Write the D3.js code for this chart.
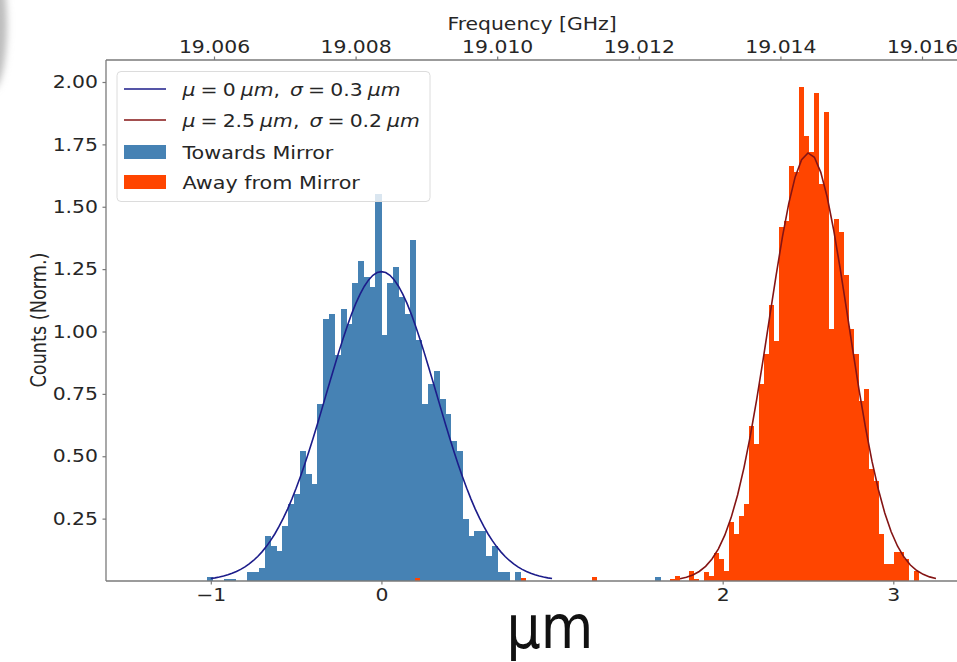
<!DOCTYPE html>
<html>
<head>
<meta charset="utf-8">
<script src="https://cdn.jsdelivr.net/npm/d3@7"></script>
<style>
    body { margin: 0; background: #fff; }
    text { font-family: "DejaVu Sans", sans-serif; fill: #262626; }
    .axis path { stroke: none; }
    .axis line { stroke: #7a7a7a; stroke-width: 1.2px; }
    .axis text { font-size: 17.7px; }
</style>
</head>
<body>
<script>

// histogram of the "towards mirror" run (normalised counts), bins from blueStart
const blueStart = -1.024;
const blueWidth = 0.0341;
const blueCounts = [0.015, 0, 0, 0.01, 0.01, 0, 0, 0.036, 0.036, 0.053,
    0.18, 0.14, 0.12, 0.22, 0.31, 0.35, 0.52, 0.43, 0.39, 0.71,
    1.05, 1.07, 0.905, 1.09, 1.03, 1.195, 1.283, 1.22, 1.18, 1.55,
    0.985, 1.195, 1.26, 1.14, 1.07, 1.366, 0.966, 0.71, 0.79, 0.84,
    0.73, 0.67, 0.56, 0.52, 0.25, 0.18, 0.20, 0.20, 0.10, 0.14,
    0.036, 0.036, 0, 0.036];
const blueStrayX = [1.602];
const blueStrayH = [0.015];

// histogram of the "away from mirror" run
const redStart = 1.801;
const redWidth = 0.0293;
const redCounts = [0.04, 0.01, 0, 0.035, 0.02, 0.113, 0.09, 0.04, 0.235, 0.187,
    0.26, 0.307, 0.62, 0.55, 0.79, 0.91, 1.105, 0.96, 1.42, 1.444,
    1.663, 1.64, 1.978, 1.783, 1.72, 1.954, 1.59, 1.88, 1.01, 1.45,
    1.40, 1.226, 1.01, 0.91, 0.72, 0.77, 0.45, 0.40, 0.187, 0.067,
    0.067, 0.115, 0.115, 0.09, 0, 0.04];
const redStrayX = [0.195, 0.818, 1.236, 1.689, 1.718];
const redStrayH = [0.012, 0.012, 0.016, 0.01, 0.02];

// gaussian fits: [mean, sigma, peak, from, to]
const blueFit = [0.0, 0.322, 1.24, -1.0, 1.0];
const redFit = [2.504, 0.2325, 1.716, 1.75, 3.25];

const xTicks = [-1, 0, 2, 3];
const yTicks = [0.25, 0.5, 0.75, 1.0, 1.25, 1.5, 1.75, 2.0];
const freqTicks = [19.006, 19.008, 19.010, 19.012, 19.014, 19.016];

const legendLabels = ['Towards Mirror', 'Away from Mirror'];

const SX = 1.15; // text in the picture is stretched sideways
const W = 957, H = 662;
const plot = { left: 106, top: 60, right: 958, bottom: 581 };

let x = d3.scaleLinear().domain([-1, 3]).range([210.8, 893.3]);
let xf = d3.scaleLinear().domain([19.006, 19.016]).range([214, 922]);
let y = d3.scaleLinear().domain([0, 2]).range([581, 82]);

let svg = d3.select('body').append('svg')
    .attr('width', W)
    .attr('height', H);

// blurred grey smudge at the top left edge of the photo
let defs = svg.append('defs');
defs.append('filter').attr('id', 'blur')
    .attr('x', '-50%').attr('y', '-50%').attr('width', '200%').attr('height', '200%')
    .append('feGaussianBlur').attr('stdDeviation', 3.5);
defs.append('clipPath').attr('id', 'clip')
    .append('rect')
    .attr('x', plot.left).attr('y', plot.top)
    .attr('width', plot.right - plot.left).attr('height', plot.bottom - plot.top);

svg.append('ellipse')
    .attr('cx', -8).attr('cy', 25)
    .attr('rx', 15).attr('ry', 65)
    .style('fill', '#bdbdbd')
    .attr('filter', 'url(#blur)');

let g = svg.append('g').attr('clip-path', 'url(#clip)');

function bars(counts, start, width, color) {
    g.append('g').selectAll('rect')
        .data(counts)
        .enter().append('rect')
        .attr('x', (d, i) => x(start + i * width))
        .attr('width', (d, i) => x(start + (i + 1) * width) - x(start + i * width) + 0.3)
        .attr('y', d => y(d))
        .attr('height', d => y(0) - y(d))
        .attr('shape-rendering', 'crispEdges')
        .style('fill', color);
}

function strays(xs, hs, width, color) {
    g.append('g').selectAll('rect')
        .data(xs)
        .enter().append('rect')
        .attr('x', d => x(d))
        .attr('width', d => x(d + width) - x(d))
        .attr('y', (d, i) => y(hs[i]))
        .attr('height', (d, i) => y(0) - y(hs[i]))
        .attr('shape-rendering', 'crispEdges')
        .style('fill', color);
}

bars(blueCounts, blueStart, blueWidth, '#4682b4');
strays(blueStrayX, blueStrayH, blueWidth, '#4682b4');
bars(redCounts, redStart, redWidth, '#ff4500');
strays(redStrayX, redStrayH, redWidth, '#ff4500');

function fitLine(fit, color, n) {
    let [mu, sigma, peak, from, to] = fit;
    let pts = d3.range(n + 1).map(i => {
        let v = from + (to - from) * i / n;
        return [v, peak * Math.exp(-0.5 * ((v - mu) / sigma) ** 2)];
    });
    g.append('path')
        .datum(pts)
        .attr('d', d3.line().x(d => x(d[0])).y(d => y(d[1])))
        .style('fill', 'none')
        .style('stroke', color)
        .style('stroke-width', 1.6);
}

fitLine(blueFit, '#1c1c8a', 80);
fitLine(redFit, '#841414', 40);

// axes
let fmtMinus = d => d < 0 ? '\u2212' + Math.abs(d) : d;

let xAxis = svg.append('g')
    .attr('class', 'axis')
    .attr('transform', `translate(0,${plot.bottom})`)
    .call(d3.axisBottom(x).tickValues(xTicks).tickFormat(fmtMinus).tickSize(3.5).tickPadding(3.5));

let yAxis = svg.append('g')
    .attr('class', 'axis')
    .attr('transform', `translate(${plot.left},0)`)
    .call(d3.axisLeft(y).tickValues(yTicks).tickFormat(d3.format('.2f')).tickSize(3.5).tickPadding(3.5));

let topAxis = svg.append('g')
    .attr('class', 'axis')
    .attr('transform', `translate(0,${plot.top})`)
    .call(d3.axisTop(xf).tickValues(freqTicks).tickFormat(d3.format('.3f')).tickSize(3.5).tickPadding(4));

svg.selectAll('.axis text').attr('transform', `scale(${SX},1)`);

// spines
svg.append('line')
    .attr('x1', plot.left).attr('x2', plot.right)
    .attr('y1', plot.top).attr('y2', plot.top)
    .style('stroke', '#7a7a7a').style('stroke-width', 1.3);
svg.append('line')
    .attr('x1', plot.left).attr('x2', plot.right)
    .attr('y1', plot.bottom).attr('y2', plot.bottom)
    .style('stroke', '#7a7a7a').style('stroke-width', 1.3);
svg.append('line')
    .attr('x1', plot.left).attr('x2', plot.left)
    .attr('y1', plot.top).attr('y2', plot.bottom)
    .style('stroke', '#7a7a7a').style('stroke-width', 1.3);

// axis titles
svg.append('text')
    .attr('transform', `translate(532,29.5) scale(${SX},1)`)
    .attr('text-anchor', 'middle')
    .style('font-size', '17.7px')
    .text('Frequency [GHz]');

svg.append('text')
    .attr('transform', `translate(46,320) scale(${SX},1) rotate(-90)`)
    .attr('text-anchor', 'middle')
    .style('font-size', '17.7px')
    .text('Counts (Norm.)');

svg.append('text')
    .attr('transform', `translate(550,648) scale(0.9,1)`)
    .attr('text-anchor', 'middle')
    .style('font-size', '60px')
    .style('fill', '#111')
    .text('\u00b5m');

// legend
let legend = svg.append('g');
legend.append('rect')
    .attr('x', 117).attr('y', 71.5)
    .attr('width', 313).attr('height', 130)
    .attr('rx', 4).attr('ry', 4)
    .style('fill', 'white').style('fill-opacity', 0.8)
    .style('stroke', '#dcdcdc').style('stroke-width', 1);

let rowY = [89, 120, 152, 182];

legend.append('line')
    .attr('x1', 124).attr('x2', 166).attr('y1', rowY[0]).attr('y2', rowY[0])
    .style('stroke', '#1c1c8a').style('stroke-width', 1.6);
legend.append('line')
    .attr('x1', 124).attr('x2', 166).attr('y1', rowY[1]).attr('y2', rowY[1])
    .style('stroke', '#841414').style('stroke-width', 1.6);
legend.append('rect')
    .attr('x', 124).attr('y', rowY[2] - 7).attr('width', 42).attr('height', 14)
    .style('fill', '#4682b4');
legend.append('rect')
    .attr('x', 124).attr('y', rowY[3] - 7).attr('width', 42).attr('height', 14)
    .style('fill', '#ff4500');

function mathLabel(row, parts, size) {
    let t = legend.append('text')
        .attr('transform', `translate(182.5,${rowY[row] + 6.5}) scale(${SX},1)`)
        .style('font-size', size + 'px');
    parts.forEach(p => {
        t.append('tspan')
            .style('font-style', p[1] ? 'italic' : 'normal')
            .text(p[0]);
    });
}

mathLabel(0, [['\u03bc', 1], ['\u2005=\u20050\u2005', 0], ['\u03bcm', 1], [',\u2002', 0],
    ['\u03c3', 1], ['\u2005=\u20050.3\u2005', 0], ['\u03bcm', 1]], 17.7);
mathLabel(1, [['\u03bc', 1], ['\u2005=\u20052.5\u2005', 0], ['\u03bcm', 1], [',\u2002', 0],
    ['\u03c3', 1], ['\u2005=\u20050.2\u2005', 0], ['\u03bcm', 1]], 17.7);
mathLabel(2, [[legendLabels[0], 0]], 18);
mathLabel(3, [[legendLabels[1], 0]], 18);

</script>
</body>
</html>
